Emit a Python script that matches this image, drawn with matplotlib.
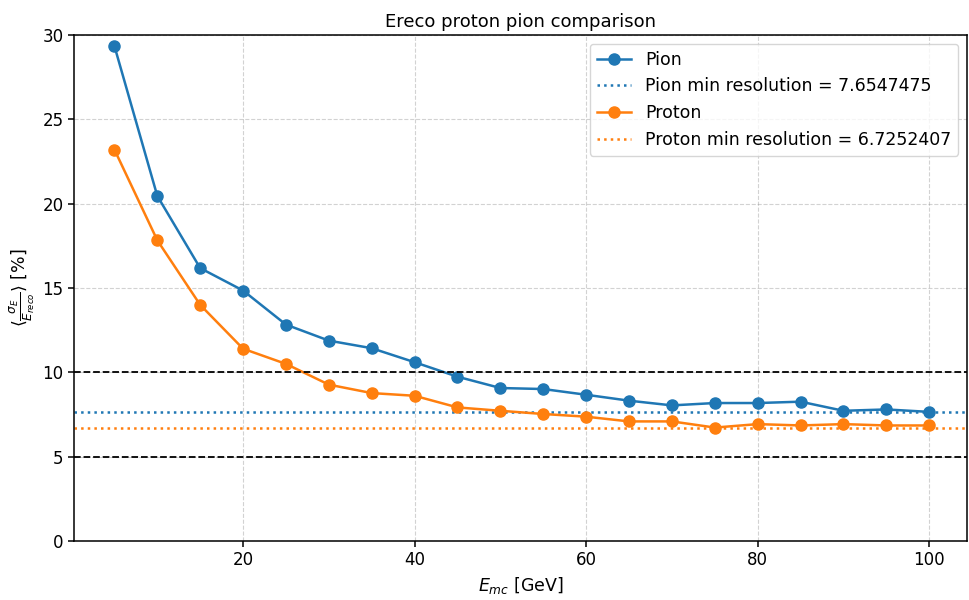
import matplotlib
matplotlib.use("Agg")
import matplotlib.pyplot as plt

energies = [5, 10, 15, 20, 25, 30, 35, 40, 45, 50, 55, 60, 65, 70, 75, 80, 85, 90, 95, 100]
pion_res = [29.35, 20.46, 16.18, 14.85, 12.83, 11.88, 11.43, 10.6, 9.74, 9.07,
            9.01, 8.67, 8.32, 8.04, 8.18, 8.18, 8.26, 7.72, 7.8, 7.6547475]
proton_res = [23.21, 17.83, 14.0, 11.4, 10.5, 9.27, 8.77, 8.61, 7.92, 7.72,
              7.53, 7.37, 7.09, 7.09, 6.7252407, 6.93, 6.85, 6.93, 6.85, 6.85]
pion_min = 7.6547475
proton_min = 6.7252407

fig = plt.figure(figsize=(9.7, 6), dpi=100)
ax = fig.add_axes([74 / 970, 59 / 600, 893 / 970, 506 / 600])

ax.plot(energies, pion_res, "o-", color="C0", lw=1.8, ms=8, label="Pion")
ax.axhline(pion_min, color="C0", linestyle=":", lw=1.8,
           label=f"Pion min resolution = {pion_min}")
ax.plot(energies, proton_res, "o-", color="C1", lw=1.8, ms=8, label="Proton")
ax.axhline(proton_min, color="C1", linestyle=":", lw=1.8,
           label=f"Proton min resolution = {proton_min}")
ax.axhline(10, color="black", linestyle="--", linewidth=1.3)
ax.axhline(5, color="black", linestyle="--", linewidth=1.3)

ax.set_ylim(0, 30)
ax.set_xlim(0.29, 104.4)
ax.set_xticks([20, 40, 60, 80, 100])
ax.tick_params(labelsize=12, width=1.1, length=4)
for s in ax.spines.values():
    s.set_linewidth(1.1)
ax.grid(True, linestyle="--", color="gray", alpha=0.35)
ax.set_title("Ereco proton pion comparison", fontsize=13)
ax.set_xlabel(r"$E_{mc}$ [GeV]", fontsize=12.5)
ax.set_ylabel(r"$\langle\frac{\sigma_E}{E_{reco}}\rangle$ [%]", fontsize=12.5)
ax.legend(loc="upper right", fontsize=12.5)

fig.savefig("out.png", dpi=100)
